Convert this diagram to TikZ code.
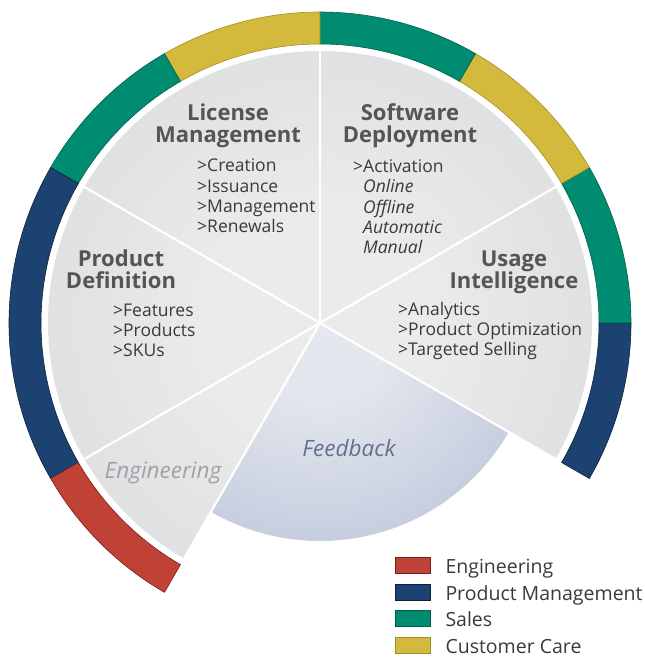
\documentclass[tikz,border=0pt]{standalone}
\usepackage{fontspec}
\setmainfont{Open Sans}
\usetikzlibrary{positioning,calc}
\definecolor{engfill}{RGB}{192,66,55}
\definecolor{engborder}{RGB}{120,30,25}
\definecolor{pmfill}{RGB}{27,66,112}
\definecolor{pmborder}{RGB}{12,32,62}
\definecolor{salesfill}{RGB}{0,140,112}
\definecolor{salesborder}{RGB}{0,95,75}
\definecolor{ccfill}{RGB}{212,186,60}
\definecolor{ccborder}{RGB}{165,142,40}
\definecolor{wedgein}{RGB}{235,235,236}
\definecolor{wedgemid}{RGB}{217,218,220}
\definecolor{wedgeout}{RGB}{201,202,205}
\definecolor{fbin}{RGB}{228,231,238}
\definecolor{fbout}{RGB}{155,169,201}
\definecolor{titlecol}{RGB}{85,85,87}
\definecolor{itemcol}{RGB}{58,58,60}
\definecolor{englbl}{RGB}{160,161,165}
\definecolor{fblbl}{RGB}{98,112,142}
\pgfdeclareradialshading{wedgeshade}{\pgfpoint{0bp}{0bp}}{color(0bp)=(wedgein); color(10bp)=(wedgein); color(35bp)=(wedgemid); color(50bp)=(wedgeout)}
\pgfdeclareradialshading{fbshade}{\pgfpoint{0bp}{0bp}}{color(0bp)=(fbin); color(8bp)=(fbin); color(50bp)=(fbout)}

\begin{document}
\begin{tikzpicture}[
  x=1bp, y=1bp,
  ringseg/.style={line width=0.6pt, line join=miter},
  sep/.style={draw=white, line width=2.2pt},
  title/.style={font=\fontsize{22bp}{22bp}\selectfont\bfseries, text=titlecol,
    align=center, anchor=base, inner sep=0pt},
  items/.style={font=\fontsize{17.5bp}{20.4bp}\selectfont, text=itemcol,
    align=left, anchor=base west, inner sep=0pt},
  soft/.style={font=\fontsize{22.5bp}{23bp}\selectfont\itshape, anchor=base, inner sep=0pt},
  legbox/.style={minimum width=35bp, minimum height=16bp, inner sep=0pt, line width=0.6pt},
  legtext/.style={font=\fontsize{19.5bp}{20bp}\selectfont, text=itemcol, anchor=base west, inner sep=0pt}
]
\useasboundingbox (-320,-334) rectangle (325,323);

% ========== Gray wedges ==========
\begin{scope}
  \clip (0,0) -- (-30:272) arc[start angle=-30, end angle=240, radius=272] -- cycle;
  \shade[shading=wedgeshade] (0,0) circle[radius=272];
\end{scope}

% ========== Feedback sector ==========
\begin{scope}
  \clip (0,0) -- (240:218) arc[start angle=240, end angle=330, radius=218] -- cycle;
  \shade[shading=fbshade] (0,0) circle[radius=218];
\end{scope}

% Wedge separators
\coordinate (c) at (0,0);
\draw[sep] (c) -- (30:272);
\draw[sep] (c) -- (90:272);
\draw[sep] (c) -- (150:272);
\draw[sep] (c) -- (210:272);
\draw[sep] (c) -- (240:272);
\draw[sep] (c) -- (-30:272);

% ========== Outer ring ==========
\draw[ringseg, fill=pmfill, draw=pmborder] (-30:279) arc[start angle=-30, end angle=0, radius=279]
  -- (0:311) arc[start angle=0, end angle=-30, radius=311] -- cycle;
\draw[ringseg, fill=salesfill, draw=salesborder] (0:279) arc[start angle=0, end angle=30, radius=279]
  -- (30:311) arc[start angle=30, end angle=0, radius=311] -- cycle;
\draw[ringseg, fill=ccfill, draw=ccborder] (30:279) arc[start angle=30, end angle=60, radius=279]
  -- (60:311) arc[start angle=60, end angle=30, radius=311] -- cycle;
\draw[ringseg, fill=salesfill, draw=salesborder] (60:279) arc[start angle=60, end angle=90, radius=279]
  -- (90:311) arc[start angle=90, end angle=60, radius=311] -- cycle;
\draw[ringseg, fill=ccfill, draw=ccborder] (90:279) arc[start angle=90, end angle=120, radius=279]
  -- (120:311) arc[start angle=120, end angle=90, radius=311] -- cycle;
\draw[ringseg, fill=salesfill, draw=salesborder] (120:279) arc[start angle=120, end angle=150, radius=279]
  -- (150:311) arc[start angle=150, end angle=120, radius=311] -- cycle;
\draw[ringseg, fill=pmfill, draw=pmborder] (150:279) arc[start angle=150, end angle=210, radius=279]
  -- (210:311) arc[start angle=210, end angle=150, radius=311] -- cycle;
\draw[ringseg, fill=engfill, draw=engborder] (210:279) arc[start angle=210, end angle=240, radius=279]
  -- (240:311) arc[start angle=240, end angle=210, radius=311] -- cycle;

% ========== Wedge texts ==========
% (multi-line nodes: base = baseline of the last line)
\node[title] (lic-title) at (-92,180) {License\\Management};
\node[items] (lic-items) at (-123,90) {>Creation\\>Issuance\\>Management\\>Renewals};

\node[title] (sw-title) at (90,180) {Software\\Deployment};
\node[items] (sw-items) at (33,69) {>Activation\\
  \hspace*{10bp}\itshape Online\\\hspace*{10bp}\itshape Offline\\
  \hspace*{10bp}\itshape Automatic\\\hspace*{10bp}\itshape Manual};

\node[title] (ui-title) at (194,34) {Usage\\Intelligence};
\node[items] (ui-items) at (78,-33) {>Analytics\\>Product Optimization\\>Targeted Selling};

\node[title] (pd-title) at (-199,34) {Product\\Definition};
\node[items] (pd-items) at (-207,-34) {>Features\\>Products\\>SKUs};

\node[soft, text=englbl] (eng-lbl) at (-157,-155) {Engineering};
\node[soft, text=fblbl] (fb-lbl) at (29,-133) {Feedback};

% ========== Legend ==========
\node[legbox, fill=engfill, draw=engborder] (leg-eng) at (92.5,-242.5) {};
\node[legbox, fill=pmfill, draw=pmborder, below=10bp of leg-eng] (leg-pm) {};
\node[legbox, fill=salesfill, draw=salesborder, below=10bp of leg-pm] (leg-sales) {};
\node[legbox, fill=ccfill, draw=ccborder, below=10bp of leg-sales] (leg-cc) {};

\node[legtext] (leg-eng-t) at ([xshift=15bp]leg-eng.south east) {Engineering};
\node[legtext] (leg-pm-t) at ([xshift=15bp]leg-pm.south east) {Product Management};
\node[legtext] (leg-sales-t) at ([xshift=15bp]leg-sales.south east) {Sales};
\node[legtext] (leg-cc-t) at ([xshift=15bp]leg-cc.south east) {Customer Care};

\end{tikzpicture}
\end{document}
